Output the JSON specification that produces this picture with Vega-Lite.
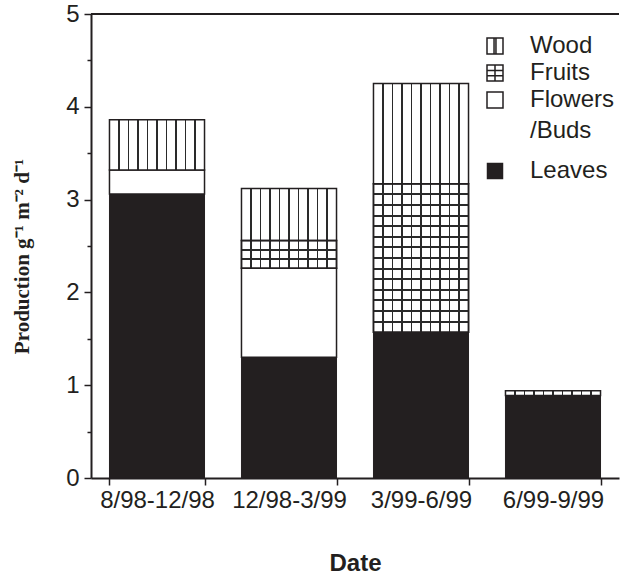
{
  "$schema": "https://vega.github.io/schema/vega-lite/v6.json",
  "width": 528,
  "height": 464,
  "autosize": {"type": "none"},
  "padding": {"left": 91, "top": 14, "right": 1, "bottom": 96},
  "background": "white",
  "config": {"view": {"stroke": null}, "font": "Liberation Sans"},
  "data": {
    "values": [
      {"date": "8/98-12/98", "part": "Leaves", "rank": 1, "value": 3.06},
      {"date": "8/98-12/98", "part": "Flowers/Buds", "rank": 2, "value": 0.26},
      {"date": "8/98-12/98", "part": "Wood", "rank": 4, "value": 0.54},
      {"date": "12/98-3/99", "part": "Leaves", "rank": 1, "value": 1.30},
      {"date": "12/98-3/99", "part": "Flowers/Buds", "rank": 2, "value": 0.96},
      {"date": "12/98-3/99", "part": "Fruits", "rank": 3, "value": 0.30},
      {"date": "12/98-3/99", "part": "Wood", "rank": 4, "value": 0.56},
      {"date": "3/99-6/99", "part": "Leaves", "rank": 1, "value": 1.57},
      {"date": "3/99-6/99", "part": "Fruits", "rank": 3, "value": 1.60},
      {"date": "3/99-6/99", "part": "Wood", "rank": 4, "value": 1.08},
      {"date": "6/99-9/99", "part": "Leaves", "rank": 1, "value": 0.89},
      {"date": "6/99-9/99", "part": "Wood", "rank": 4, "value": 0.05}
    ]
  },
  "transform": [
    {"stack": "value", "groupby": ["date"], "sort": [{"field": "rank", "order": "ascending"}], "as": ["v0", "v1"]}
  ],
  "layer": [
    {
      "encoding": {
        "x": {
          "field": "date", "type": "nominal",
          "sort": ["8/98-12/98", "12/98-3/99", "3/99-6/99", "6/99-9/99"],
          "scale": {"paddingInner": 0.28, "paddingOuter": 0.14},
          "axis": {
            "title": "Date", "tickBand": "extent", "labelAngle": 0,
            "labelFontSize": 24, "labelColor": "#231f20", "labelPadding": 3,
            "tickSize": 7, "tickColor": "#231f20", "tickWidth": 1.5,
            "domainColor": "#231f20", "domainWidth": 2,
            "titleFontSize": 24, "titleFontWeight": "bold", "titleColor": "#231f20", "titlePadding": 39
          }
        },
        "y": {
          "field": "v1", "type": "quantitative",
          "scale": {"domain": [0, 5], "nice": false},
          "axis": {
            "title": "Production g⁻¹ m⁻² d⁻¹",
            "values": [0, 0.5, 1, 1.5, 2, 2.5, 3, 3.5, 4, 4.5, 5],
            "format": "~g",
            "labelExpr": "datum.value % 1 === 0 ? datum.label : ''",
            "labelOverlap": false,
            "tickSize": {"condition": {"test": "datum.value % 1 === 0", "value": 7}, "value": 4},
            "grid": false,
            "domainColor": "#231f20", "domainWidth": 2,
            "tickColor": "#231f20", "tickWidth": 1.5,
            "labelFontSize": 24, "labelColor": "#231f20", "labelPadding": 5,
            "titleFont": "Liberation Serif", "titleFontSize": 21, "titleFontWeight": "bold",
            "titleColor": "#231f20", "titlePadding": 33, "titleY": 242
          }
        },
        "y2": {"field": "v0"}
      },
      "layer": [
        {
          "transform": [{"filter": "datum.part === 'Leaves'"}],
          "mark": {"type": "bar", "fill": "#231f20", "stroke": "#231f20", "strokeWidth": 1}
        },
        {
          "transform": [{"filter": "datum.part === 'Flowers/Buds'"}],
          "mark": {"type": "bar", "fill": "white", "stroke": "#231f20", "strokeWidth": 1.5}
        },
        {
          "transform": [{"filter": "datum.part === 'Fruits' || datum.part === 'Wood'"}],
          "mark": {
            "type": "bar", "stroke": "#231f20", "strokeWidth": 1.5,
            "fill": {
              "gradient": "linear", "x1": 0, "y1": 0, "x2": 1, "y2": 0,
              "stops": [
                {"offset": 0, "color": "white"},
                {"offset": 0.09, "color": "white"}, {"offset": 0.09, "color": "#2a2a2a"}, {"offset": 0.11, "color": "#2a2a2a"}, {"offset": 0.11, "color": "white"},
                {"offset": 0.19, "color": "white"}, {"offset": 0.19, "color": "#2a2a2a"}, {"offset": 0.21, "color": "#2a2a2a"}, {"offset": 0.21, "color": "white"},
                {"offset": 0.29, "color": "white"}, {"offset": 0.29, "color": "#2a2a2a"}, {"offset": 0.31, "color": "#2a2a2a"}, {"offset": 0.31, "color": "white"},
                {"offset": 0.39, "color": "white"}, {"offset": 0.39, "color": "#2a2a2a"}, {"offset": 0.41, "color": "#2a2a2a"}, {"offset": 0.41, "color": "white"},
                {"offset": 0.49, "color": "white"}, {"offset": 0.49, "color": "#2a2a2a"}, {"offset": 0.51, "color": "#2a2a2a"}, {"offset": 0.51, "color": "white"},
                {"offset": 0.59, "color": "white"}, {"offset": 0.59, "color": "#2a2a2a"}, {"offset": 0.61, "color": "#2a2a2a"}, {"offset": 0.61, "color": "white"},
                {"offset": 0.69, "color": "white"}, {"offset": 0.69, "color": "#2a2a2a"}, {"offset": 0.71, "color": "#2a2a2a"}, {"offset": 0.71, "color": "white"},
                {"offset": 0.79, "color": "white"}, {"offset": 0.79, "color": "#2a2a2a"}, {"offset": 0.81, "color": "#2a2a2a"}, {"offset": 0.81, "color": "white"},
                {"offset": 0.89, "color": "white"}, {"offset": 0.89, "color": "#2a2a2a"}, {"offset": 0.91, "color": "#2a2a2a"}, {"offset": 0.91, "color": "white"},
                {"offset": 1, "color": "white"}
              ]
            }
          }
        },
        {
          "transform": [{"filter": "datum.part === 'Fruits' && datum.date === '3/99-6/99'"}],
          "mark": {
            "type": "bar", "stroke": "#231f20", "strokeWidth": 1.5,
            "fill": {
              "gradient": "linear", "x1": 0, "y1": 0, "x2": 0, "y2": 1,
              "stops": [
                {"offset": 0, "color": "rgba(255,255,255,0)"},
                {"offset": 0.0647, "color": "rgba(255,255,255,0)"}, {"offset": 0.0647, "color": "#2a2a2a"}, {"offset": 0.0781, "color": "#2a2a2a"}, {"offset": 0.0781, "color": "rgba(255,255,255,0)"},
                {"offset": 0.1362, "color": "rgba(255,255,255,0)"}, {"offset": 0.1362, "color": "#2a2a2a"}, {"offset": 0.1496, "color": "#2a2a2a"}, {"offset": 0.1496, "color": "rgba(255,255,255,0)"},
                {"offset": 0.2076, "color": "rgba(255,255,255,0)"}, {"offset": 0.2076, "color": "#2a2a2a"}, {"offset": 0.221, "color": "#2a2a2a"}, {"offset": 0.221, "color": "rgba(255,255,255,0)"},
                {"offset": 0.279, "color": "rgba(255,255,255,0)"}, {"offset": 0.279, "color": "#2a2a2a"}, {"offset": 0.2924, "color": "#2a2a2a"}, {"offset": 0.2924, "color": "rgba(255,255,255,0)"},
                {"offset": 0.3504, "color": "rgba(255,255,255,0)"}, {"offset": 0.3504, "color": "#2a2a2a"}, {"offset": 0.3638, "color": "#2a2a2a"}, {"offset": 0.3638, "color": "rgba(255,255,255,0)"},
                {"offset": 0.4219, "color": "rgba(255,255,255,0)"}, {"offset": 0.4219, "color": "#2a2a2a"}, {"offset": 0.4353, "color": "#2a2a2a"}, {"offset": 0.4353, "color": "rgba(255,255,255,0)"},
                {"offset": 0.4933, "color": "rgba(255,255,255,0)"}, {"offset": 0.4933, "color": "#2a2a2a"}, {"offset": 0.5067, "color": "#2a2a2a"}, {"offset": 0.5067, "color": "rgba(255,255,255,0)"},
                {"offset": 0.5647, "color": "rgba(255,255,255,0)"}, {"offset": 0.5647, "color": "#2a2a2a"}, {"offset": 0.5781, "color": "#2a2a2a"}, {"offset": 0.5781, "color": "rgba(255,255,255,0)"},
                {"offset": 0.6362, "color": "rgba(255,255,255,0)"}, {"offset": 0.6362, "color": "#2a2a2a"}, {"offset": 0.6496, "color": "#2a2a2a"}, {"offset": 0.6496, "color": "rgba(255,255,255,0)"},
                {"offset": 0.7076, "color": "rgba(255,255,255,0)"}, {"offset": 0.7076, "color": "#2a2a2a"}, {"offset": 0.721, "color": "#2a2a2a"}, {"offset": 0.721, "color": "rgba(255,255,255,0)"},
                {"offset": 0.779, "color": "rgba(255,255,255,0)"}, {"offset": 0.779, "color": "#2a2a2a"}, {"offset": 0.7924, "color": "#2a2a2a"}, {"offset": 0.7924, "color": "rgba(255,255,255,0)"},
                {"offset": 0.8504, "color": "rgba(255,255,255,0)"}, {"offset": 0.8504, "color": "#2a2a2a"}, {"offset": 0.8638, "color": "#2a2a2a"}, {"offset": 0.8638, "color": "rgba(255,255,255,0)"},
                {"offset": 0.9219, "color": "rgba(255,255,255,0)"}, {"offset": 0.9219, "color": "#2a2a2a"}, {"offset": 0.9353, "color": "#2a2a2a"}, {"offset": 0.9353, "color": "rgba(255,255,255,0)"},
                {"offset": 1, "color": "rgba(255,255,255,0)"}
              ]
            }
          }
        },
        {
          "transform": [{"filter": "datum.part === 'Fruits' && datum.date === '12/98-3/99'"}],
          "mark": {
            "type": "bar", "stroke": "#231f20", "strokeWidth": 1.5,
            "fill": {
              "gradient": "linear", "x1": 0, "y1": 0, "x2": 0, "y2": 1,
              "stops": [
                {"offset": 0, "color": "rgba(255,255,255,0)"},
                {"offset": 0.297, "color": "rgba(255,255,255,0)"}, {"offset": 0.297, "color": "#2a2a2a"}, {"offset": 0.369, "color": "#2a2a2a"}, {"offset": 0.369, "color": "rgba(255,255,255,0)"},
                {"offset": 0.631, "color": "rgba(255,255,255,0)"}, {"offset": 0.631, "color": "#2a2a2a"}, {"offset": 0.703, "color": "#2a2a2a"}, {"offset": 0.703, "color": "rgba(255,255,255,0)"},
                {"offset": 1, "color": "rgba(255,255,255,0)"}
              ]
            }
          }
        }
      ]
    },
    {
      "mark": {"type": "rule", "color": "#231f20", "strokeWidth": 2},
      "encoding": {"y": {"datum": 5}}
    },
    {
      "transform": [{"filter": "false"}],
      "mark": {"type": "point", "filled": false, "color": "#231f20", "strokeWidth": 1.5, "opacity": 1},
      "encoding": {
        "shape": {
          "field": "part", "type": "nominal",
          "scale": {
            "domain": ["Wood", "Fruits", "Flowers/Buds"],
            "range": [
              "M-1,-1H1V1H-1Z M-0.12,-1V1 M0.12,-1V1",
              "M-1,-1H1V1H-1Z M0,-1V1 M-1,-0.3H1 M-1,0.35H1",
              "M-1,-1H1V1H-1Z"
            ]
          },
          "legend": {
            "orient": "none", "legendX": 392, "legendY": 20, "title": null,
            "symbolSize": 256, "symbolFillColor": "white", "symbolStrokeColor": "#231f20", "symbolStrokeWidth": 1.5,
            "symbolOpacity": 1,
            "labelFontSize": 24, "labelColor": "#231f20", "labelFont": "Liberation Sans",
            "labelOffset": 23, "rowPadding": 3,
            "labelExpr": "datum.label === 'Flowers/Buds' ? 'Flowers' : datum.label"
          }
        }
      }
    },
    {
      "transform": [{"filter": "false"}],
      "mark": {"type": "square", "filled": true, "strokeWidth": 0, "opacity": 1},
      "encoding": {
        "fill": {
          "field": "part", "type": "nominal",
          "scale": {"domain": ["Flowers/Buds", "Leaves"], "range": ["rgba(0,0,0,0)", "#231f20"]},
          "legend": {
            "orient": "none", "legendX": 392, "legendY": 105, "title": null,
            "symbolType": "square", "symbolSize": 272, "symbolStrokeWidth": 0, "symbolOpacity": 1,
            "labelFontSize": 24, "labelColor": "#231f20", "labelFont": "Liberation Sans",
            "labelOffset": 23, "rowPadding": 16,
            "labelExpr": "datum.label === 'Flowers/Buds' ? '/Buds' : datum.label"
          }
        }
      }
    }
  ]
}
